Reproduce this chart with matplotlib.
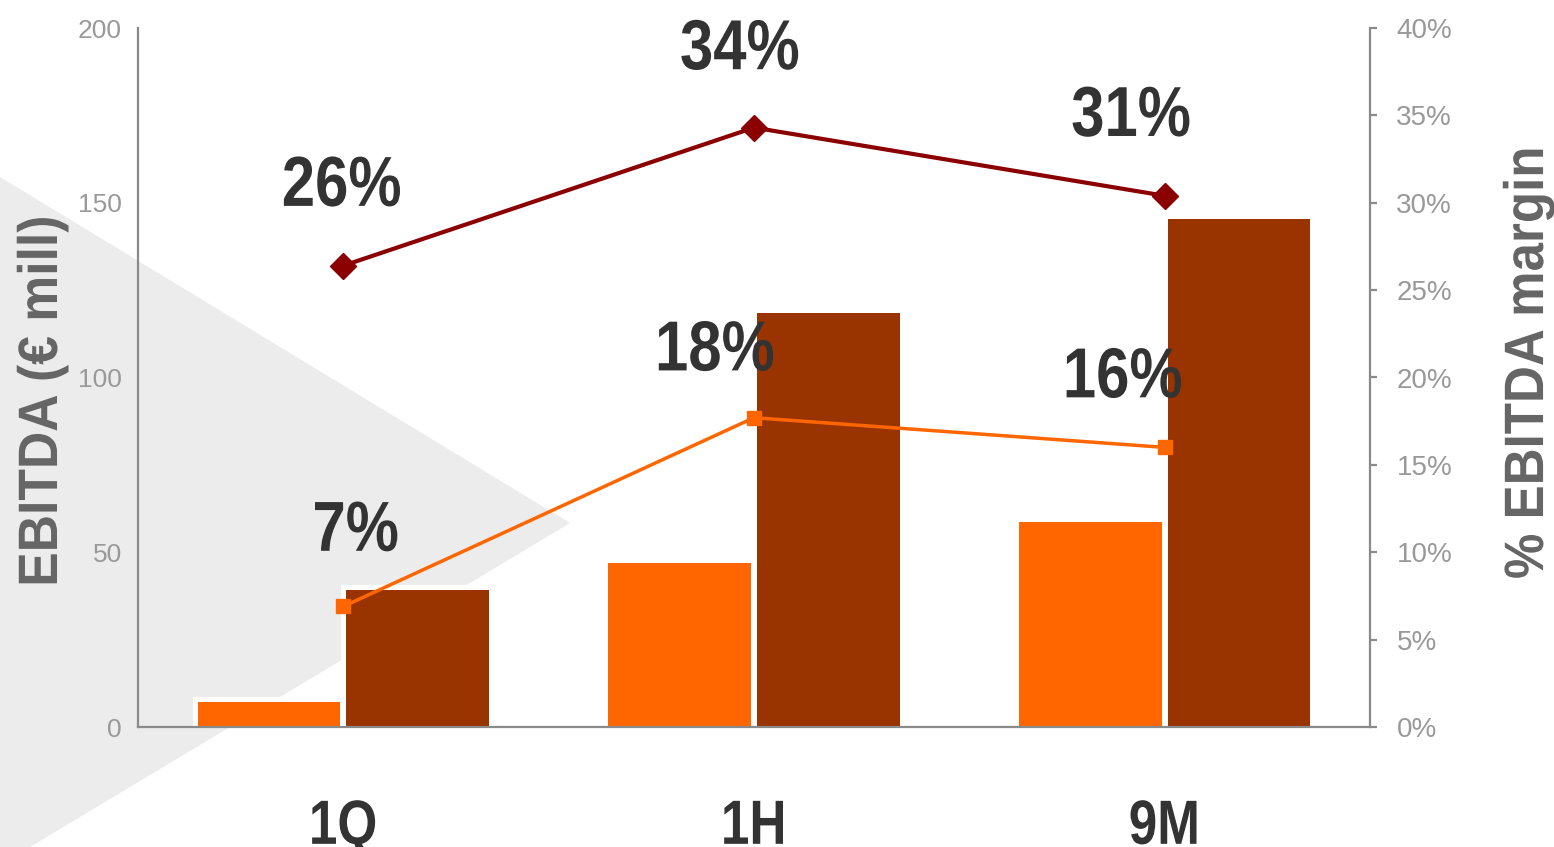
import matplotlib.pyplot as plt
from matplotlib.patches import Polygon
from matplotlib.patheffects import AbstractPathEffect
from matplotlib.ticker import FuncFormatter
from matplotlib.transforms import Affine2D
import numpy as np

periods = ['1Q', '1H', '9M']
ebitda_orange = [7.2, 46.9, 58.7]       # € mill, light orange bars
ebitda_brown = [39.2, 118.5, 145.4]     # € mill, dark brown bars
margin_brown = [26.4, 34.3, 30.4]       # % margin, dark red line
margin_orange = [6.9, 17.7, 16.0]       # % margin, orange line
labels_brown = ['26%', '34%', '31%']
labels_orange = ['7%', '18%', '16%']

ORANGE = '#FF6600'
BROWN = '#993300'
DARKRED = '#8B0000'
GREY = '#8a8a8a'


class Narrow(AbstractPathEffect):
    """squeeze text horizontally (no narrow font installed)"""
    def __init__(self, f=0.84):
        super().__init__()
        self.f = f

    def draw_path(self, renderer, gc, tpath, affine, rgbFace=None):
        v = tpath.vertices
        cx = (v[:, 0].min() + v[:, 0].max()) / 2
        t = Affine2D().translate(-cx, 0).scale(self.f, 1).translate(cx, 0)
        renderer.draw_path(gc, tpath, t + affine, rgbFace)


plt.rcParams['font.family'] = ['Liberation Sans', 'DejaVu Sans']

fig = plt.figure(figsize=(15.54, 8.47), dpi=100)
fig.patch.set_facecolor('white')

# light grey arrow shape in the background
tri = Polygon([(0, 1 - 177 / 847), (570 / 1554, 1 - 523 / 847), (0, 1 - 865 / 847)],
              closed=True, transform=fig.transFigure, facecolor='#ececec',
              edgecolor='none', zorder=0)
fig.add_artist(tri)

ax = fig.add_axes([138 / 1554, 1 - 727 / 847, 1232 / 1554, 699 / 847])
ax.patch.set_visible(False)

x = np.arange(len(periods))
off = 0.181
w = 0.348
# white halo under the bars, then the bars themselves
ax.bar(x - off, ebitda_orange, w, color='white', edgecolor='white', linewidth=8, zorder=2)
ax.bar(x + off, ebitda_brown, w, color='white', edgecolor='white', linewidth=8, zorder=2)
ax.bar(x - off, ebitda_orange, w, color=ORANGE, zorder=3)
ax.bar(x + off, ebitda_brown, w, color=BROWN, zorder=3)

ax.set_xlim(-0.5, 2.5)
ax.set_ylim(0, 200)
ax.set_yticks([0, 50, 100, 150, 200])
ax.set_xticks(x)
xl = ax.set_xticklabels(periods, fontweight='bold', fontsize=45, color='#333333')
for t in xl:
    t.set_path_effects([Narrow(0.82)])
ax.tick_params(axis='x', length=0, pad=51)
ax.tick_params(axis='y', length=0, pad=11.5, labelsize=19, labelcolor='#999999')
for s in ['top', 'right']:
    ax.spines[s].set_visible(False)
for s in ['left', 'bottom']:
    ax.spines[s].set_color(GREY)
    ax.spines[s].set_linewidth(1.6)
    ax.spines[s].set_zorder(5)

ax.set_ylabel('EBITDA (€ mill)', fontweight='bold', fontsize=40, color='#666666',
              path_effects=[Narrow(0.93)])
ax.yaxis.set_label_coords(-0.056, 0.466)

ax2 = ax.twinx()
ax2.set_ylim(0, 40)
ax2.set_yticks(range(0, 45, 5))
ax2.yaxis.set_major_formatter(FuncFormatter(lambda v, p: f'{v:.0f}%'))
ax2.plot(x, margin_brown, color=DARKRED, lw=3, marker='D', ms=13, zorder=4)
ax2.plot(x, margin_orange, color=ORANGE, lw=2.5, marker='s', ms=9.5, zorder=4)
for s in ['top', 'left', 'bottom']:
    ax2.spines[s].set_visible(False)
ax2.spines['right'].set_color(GREY)
ax2.spines['right'].set_linewidth(1.6)
ax2.tick_params(axis='y', length=5, width=1.6, color=GREY, pad=14,
                labelsize=20, labelcolor='#999999')
ax2.set_ylabel('% EBITDA margin', fontweight='bold', fontsize=40,
               color='#666666', rotation=90, path_effects=[Narrow(0.92)])
ax2.yaxis.set_label_coords(1.108, 0.521)
ax2.yaxis.label.set_verticalalignment('top')

# label offsets in points (dx, dy) from each marker
off_brown = [(-1, 56), (-10, 55), (-24, 56)]
off_orange = [(9, 53), (-28, 47), (-30, 49)]
for i in range(len(periods)):
    ax2.annotate(labels_brown[i], (x[i], margin_brown[i]), xytext=off_brown[i],
                 textcoords='offset points', ha='center', va='center',
                 fontweight='bold', fontsize=51, color='#333333', zorder=6,
                 path_effects=[Narrow(0.845)])
    ax2.annotate(labels_orange[i], (x[i], margin_orange[i]), xytext=off_orange[i],
                 textcoords='offset points', ha='center', va='center',
                 fontweight='bold', fontsize=51, color='#333333', zorder=6,
                 path_effects=[Narrow(0.845)])

plt.savefig('out.png', dpi=100)
